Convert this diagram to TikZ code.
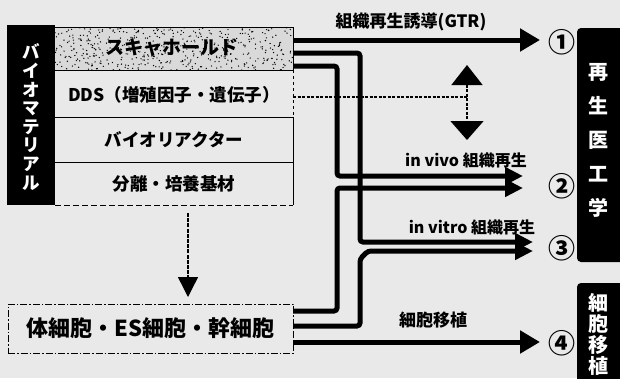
\documentclass[tikz,border=0pt]{standalone}
\usepackage{fontspec}
\setmainfont{Noto Sans CJK JP}
\usetikzlibrary{arrows.meta}
\begin{document}
\begin{tikzpicture}[x=1pt,y=-1pt,
  thickline/.style={line width=5pt, rounded corners=3pt},
  bigtip/.style={-{Triangle[length=20pt,width=22pt]}},
  smalltip/.style={-{Triangle[length=18pt,width=17pt]}},
  boxline/.style={line width=0.9pt},
  rowtext/.style={font=\fontsize{17.5pt}{17.5pt}\selectfont\bfseries, inner sep=0pt},
  lbl/.style={font=\fontsize{16pt}{16pt}\selectfont\bfseries, inner sep=0pt},
  vbar/.style={font=\fontsize{17.5pt}{18.6pt}\selectfont\bfseries, text=white, align=center, inner sep=0pt},
  num/.style={font=\fontsize{27pt}{27pt}\selectfont\bfseries, inner sep=0pt},
  thinarrow/.style={line width=1.4pt, dash pattern=on 4pt off 1.2pt},
]
\useasboundingbox (0,0) rectangle (620,378);
\fill[gray!17] (0,0) rectangle (620,378);

% scaffold stipple
\fill[gray!30] (55,27) rectangle (293,70);
\begin{scope}
\clip (55,27) rectangle (293,70);
\pgfmathsetseed{7}
\foreach \i in {1,...,500} { \fill ({55+238*rnd},{27+43*rnd}) circle (0.7); }
\end{scope}

% left black bar
\fill[black] (7,25) rectangle (55,205);
\node[vbar] (bio) at (31,117) {バ\\イ\\オ\\マ\\テ\\リ\\ア\\ル};

% row boxes borders
\draw[boxline] (55,27) -- (293,27) -- (293,70);
\draw[boxline] (55,70) -- (293,70);
\draw[boxline, dashed] (293,70) -- (293,117);
\draw[boxline] (55,117) -- (293,117) -- (293,205);
\draw[boxline] (55,162) -- (293,162);
\draw[boxline, dash pattern=on 6pt off 3pt] (55,205) -- (293,205);

\node[rowtext, font=\fontsize{19pt}{19pt}\selectfont\bfseries] (scaf) at (172,48) {スキャホールド};
\node[rowtext] (dds) at (174,95) {DDS（増殖因子・遺伝子）};
\node[rowtext] (reac) at (174,140) {バイオリアクター};
\node[rowtext] (sep) at (174,184) {分離・培養基材};

% cell box
\node[draw, line width=0.9pt, dash pattern=on 7pt off 2pt on 1.5pt off 2pt,
      minimum width=285pt, minimum height=49pt, inner sep=0pt,
      font=\fontsize{22pt}{22pt}\selectfont\bfseries] (cell) at (150.5,328.5) {体細胞・ES細胞・幹細胞};

% vertical arrow
\coordinate (vdA) at (188,213);
\coordinate (vdB) at (188,297);
\draw[thinarrow, -{Triangle[length=20pt,width=20pt]}] (vdA) -- (vdB);

% right black bars
\fill[black, rounded corners=4pt] (577,28) rectangle (630,262);
\fill[black, rounded corners=4pt] (577,283) rectangle (630,390);
\node[vbar, font=\fontsize{20pt}{34pt}\selectfont\bfseries] (reg) at (598,140) {再\\生\\医\\工\\学};
\node[vbar, font=\fontsize{20pt}{21pt}\selectfont\bfseries] (trans) at (598,334) {細\\胞\\移\\植};

% circled numbers
\node[num] (n1) at (562,42) {①};
\node[num] (n2) at (562,186) {②};
\node[num] (n3) at (562,248) {③};
\node[num] (n4) at (562,343) {④};

% labels
\node[lbl, font=\fontsize{17pt}{17pt}\selectfont\bfseries] (lgtr) at (411,22) {組織再生誘導(GTR)};
\node[lbl] (lvivo) at (466,160) {in vivo 組織再生};
\node[lbl] (lvitro) at (472,227) {in vitro 組織再生};
\node[lbl, font=\fontsize{17pt}{17pt}\selectfont\bfseries] (lcell) at (433,320) {細胞移植};

% connectors
\coordinate (sA) at (293,40);
\coordinate (sB) at (293,53);
\coordinate (sC) at (293,66);
\coordinate (cD) at (293,311);
\coordinate (cE) at (293,326);
\coordinate (cF) at (293,342);
\coordinate (t1) at (540,40);
\coordinate (t2a) at (523,176);
\coordinate (t2b) at (523,188);
\coordinate (t3a) at (533,242);
\coordinate (t3b) at (533,251);
\coordinate (t4) at (540,342);

\draw[thickline, bigtip] (sA) -- (t1);
\draw[thickline, smalltip] (sB) -- (360,53) -- (360,242) -- (t3a);
\draw[thickline, smalltip] (sC) -- (337,66) -- (337,176) -- (t2a);
\draw[thickline, smalltip] (cD) -- (337,311) -- (337,188) -- (t2b);
\draw[thickline, smalltip] (cE) -- (360,326) -- (360,259) -- (368,251) -- (t3b);
\draw[thickline, bigtip] (cF) -- (t4);

% DDS dotted line and double arrow
\coordinate (ddsR) at (293,97);
\coordinate (jn) at (467,97);
\coordinate (upT) at (467,65);
\coordinate (dnT) at (467,140);
\draw[line width=1.5pt, dash pattern=on 3pt off 1.5pt] (ddsR) -- (jn);
\draw[line width=1.5pt, dash pattern=on 3pt off 1.5pt,
      {Triangle[length=20pt,width=31pt]}-{Triangle[length=19pt,width=33pt]}] (upT) -- (dnT);
\end{tikzpicture}
\end{document}
